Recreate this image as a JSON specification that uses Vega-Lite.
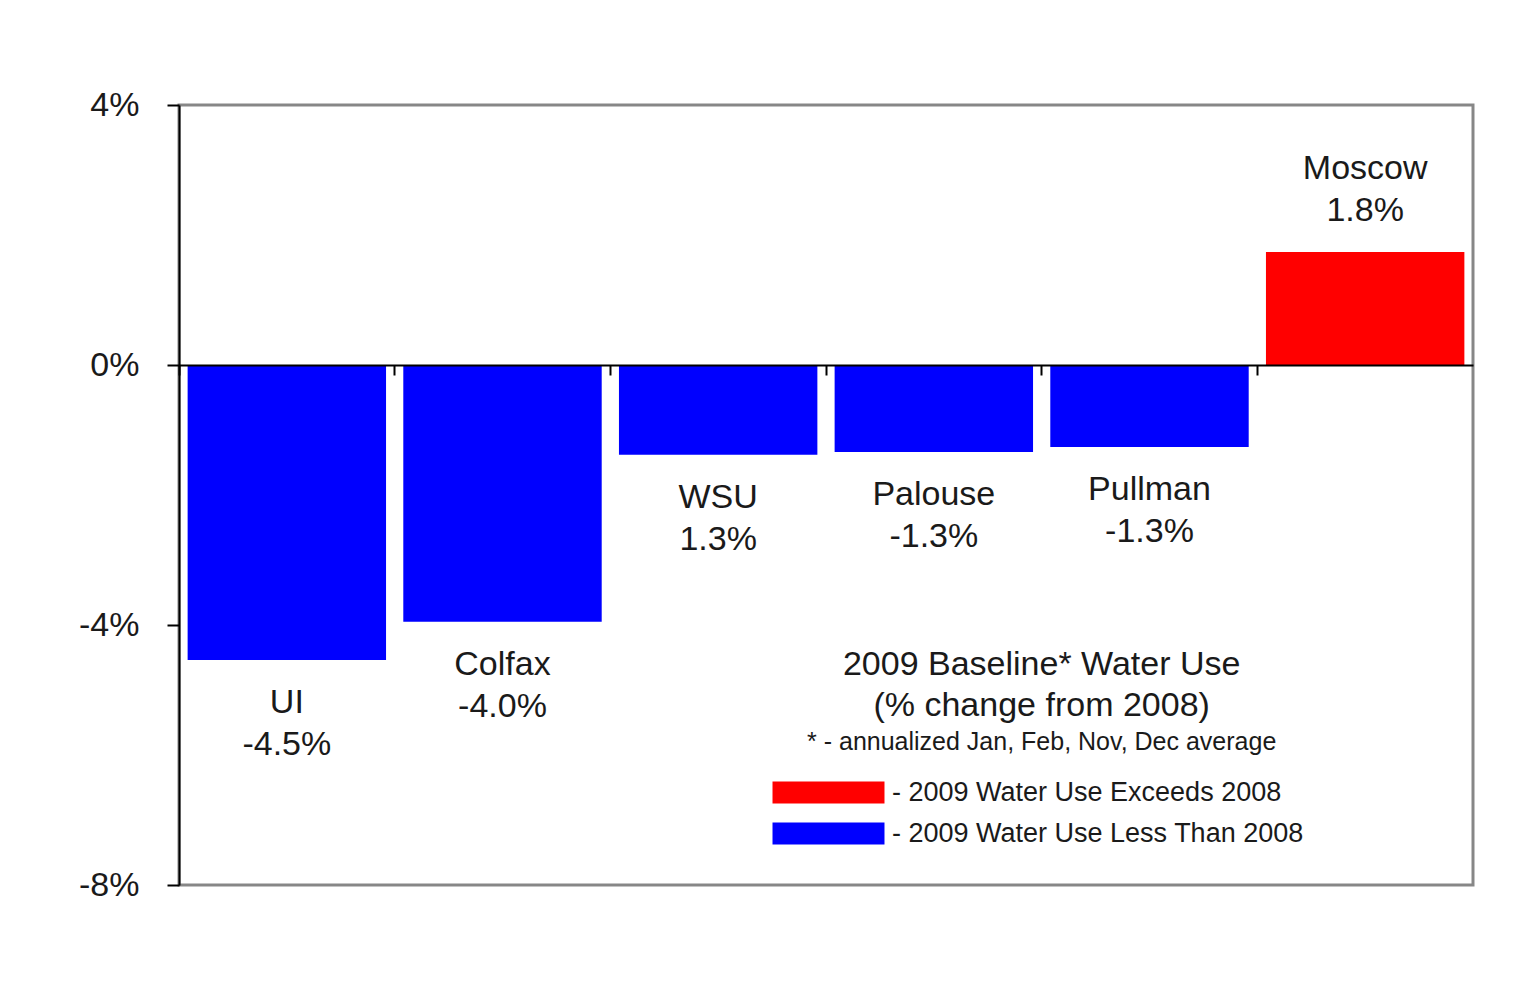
{
  "$schema": "https://vega.github.io/schema/vega-lite/v6.json",
  "width": 1294,
  "height": 780,
  "autosize": {"type": "none"},
  "padding": {"left": 179, "top": 105, "right": 55, "bottom": 112},
  "background": "white",
  "config": {
    "view": {"stroke": "#878787", "strokeWidth": 3},
    "font": "Liberation Sans"
  },
  "data": {
    "values": [
      {"site": "UI", "change": -4.54, "label": "UI\n-4.5%", "status": "- 2009 Water Use Less Than 2008"},
      {"site": "Colfax", "change": -3.95, "label": "Colfax\n-4.0%", "status": "- 2009 Water Use Less Than 2008"},
      {"site": "WSU", "change": -1.38, "label": "WSU\n1.3%", "status": "- 2009 Water Use Less Than 2008"},
      {"site": "Palouse", "change": -1.34, "label": "Palouse\n-1.3%", "status": "- 2009 Water Use Less Than 2008"},
      {"site": "Pullman", "change": -1.26, "label": "Pullman\n-1.3%", "status": "- 2009 Water Use Less Than 2008"},
      {"site": "Moscow", "change": 1.74, "label": "Moscow\n1.8%", "status": "- 2009 Water Use Exceeds 2008"}
    ]
  },
  "layer": [
    {
      "mark": {"type": "bar", "width": {"band": 0.92}},
      "encoding": {
        "x": {
          "field": "site", "type": "nominal", "sort": null,
          "scale": {"paddingInner": 0, "paddingOuter": 0},
          "axis": {
            "orient": "bottom", "offset": -520, "labels": false, "title": null,
            "domainColor": "black", "domainWidth": 2,
            "tickColor": "black", "tickWidth": 2, "tickSize": 10,
            "bandPosition": 0, "zindex": 1
          }
        },
        "y": {
          "field": "change", "type": "quantitative",
          "scale": {"domain": [-8, 4], "nice": false},
          "axis": {
            "values": [-8, -4, 0, 4],
            "labelExpr": "datum.value + '%'",
            "title": null, "grid": false,
            "domainColor": "black", "domainWidth": 2,
            "tickColor": "black", "tickWidth": 2, "tickSize": 12,
            "labelFontSize": 34, "labelPadding": 28, "labelColor": "#1a1a1a",
            "labelFont": "Liberation Sans", "zindex": 1
          }
        },
        "color": {
          "field": "status", "type": "nominal",
          "scale": {
            "domain": ["- 2009 Water Use Exceeds 2008", "- 2009 Water Use Less Than 2008"],
            "range": ["#ff0000", "#0000ff"]
          },
          "legend": {
            "orient": "none", "legendX": 636, "legendY": 674,
            "title": null, "padding": 0,
            "symbolType": "M-5.09,-1H5.09V1H-5.09Z", "symbolSize": 484,
            "symbolStrokeWidth": 0, "symbolOpacity": 1,
            "labelFontSize": 27, "labelFont": "Liberation Sans", "labelColor": "#1a1a1a",
            "labelLimit": 700, "labelOffset": 50, "rowPadding": 13
          }
        }
      }
    },
    {
      "transform": [{"filter": "datum.change < 0"}],
      "mark": {"type": "text", "baseline": "top", "dy": 26, "fontSize": 34, "lineHeight": 42, "lineBreak": "\n", "font": "Liberation Sans", "color": "#1a1a1a"},
      "encoding": {
        "x": {"field": "site", "type": "nominal", "sort": null},
        "y": {"field": "change", "type": "quantitative"},
        "text": {"field": "label"}
      }
    },
    {
      "transform": [{"filter": "datum.change > 0"}],
      "mark": {"type": "text", "baseline": "bottom", "dy": -66, "fontSize": 34, "lineHeight": 42, "lineBreak": "\n", "font": "Liberation Sans", "color": "#1a1a1a"},
      "encoding": {
        "x": {"field": "site", "type": "nominal", "sort": null},
        "y": {"field": "change", "type": "quantitative"},
        "text": {"field": "label"}
      }
    },
    {
      "data": {"values": [{}]},
      "mark": {"type": "text", "text": "2009 Baseline*  Water Use", "baseline": "middle", "fontSize": 34, "font": "Liberation Sans", "color": "#1a1a1a"},
      "encoding": {
        "x": {"datum": "Pullman", "type": "nominal", "bandPosition": 0},
        "y": {"datum": -4.615, "type": "quantitative"}
      }
    },
    {
      "data": {"values": [{}]},
      "mark": {"type": "text", "text": "(% change from 2008)", "baseline": "middle", "fontSize": 34, "font": "Liberation Sans", "color": "#1a1a1a"},
      "encoding": {
        "x": {"datum": "Pullman", "type": "nominal", "bandPosition": 0},
        "y": {"datum": -5.246, "type": "quantitative"}
      }
    },
    {
      "data": {"values": [{}]},
      "mark": {"type": "text", "text": "* - annualized Jan, Feb, Nov, Dec average", "baseline": "middle", "fontSize": 25, "font": "Liberation Sans", "color": "#1a1a1a"},
      "encoding": {
        "x": {"datum": "Pullman", "type": "nominal", "bandPosition": 0},
        "y": {"datum": -5.8, "type": "quantitative"}
      }
    }
  ]
}
